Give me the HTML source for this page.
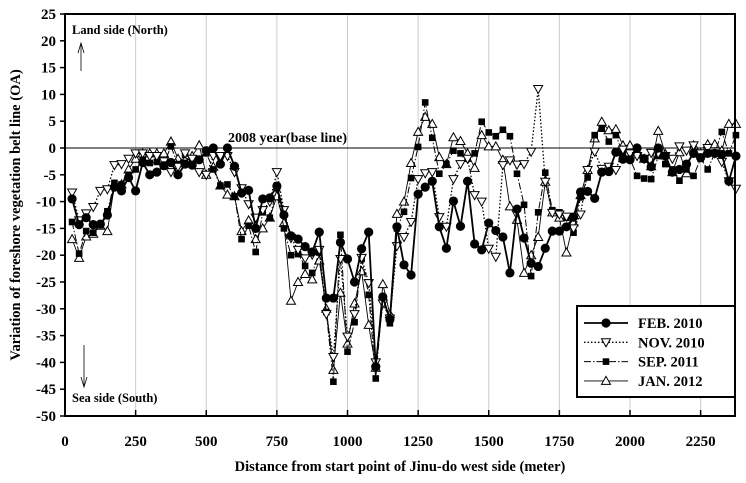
<!DOCTYPE html>
<html><head><meta charset="utf-8"><style>
body{margin:0;background:#fff}
svg text{font-family:"Liberation Serif",serif;font-weight:bold;fill:#000}
</style></head><body>
<svg id="chart" width="746" height="478" xmlns="http://www.w3.org/2000/svg">
<g id="grid"></g>
<line x1="65" x2="735" y1="148" y2="148" stroke="#000" stroke-width="1"/>
<g id="series"></g>
<rect x="65" y="14" width="670" height="402" fill="none" stroke="#000" stroke-width="2"/>
<g id="axes"></g>
<text transform="translate(20,215) rotate(-90)" text-anchor="middle" font-size="14.5">Variation of foreshore vegetation belt line (OA)</text>
<text x="400" y="471" text-anchor="middle" font-size="14.5">Distance from start point of Jinu-do west side (meter)</text>
<text x="228" y="142" font-size="14">2008 year(base line)</text>
<text x="72" y="34" font-size="12.5">Land side (North)</text>
<g stroke="#000" stroke-width="0.8" fill="none"><line x1="81" y1="71" x2="81" y2="43"/><polyline points="78,53 81,43 84,53"/></g>
<text x="72" y="402" font-size="12.5">Sea side (South)</text>
<g stroke="#000" stroke-width="0.8" fill="none"><line x1="84" y1="345" x2="84" y2="387"/><polyline points="81,377 84,387 87,377"/></g>
<g id="legend"><rect x="577" y="306" width="158" height="91" fill="#fff" stroke="#000" stroke-width="2"/></g>
</svg>
<script>
const FEB2010=[-9.5,-14.3,-13,-14.3,-14.2,-12.5,-7.3,-8,-5.5,-8,
-2.7,-5,-4.5,-3.3,-2.7,-5,-3,-3.2,-2.2,-0.5,
0,-3,0,-3.4,-8.4,-7.9,-15,-9.5,-9.3,-7.1,
-12.5,-16.4,-17,-18.4,-19.4,-15.7,-28,-28,-17.6,-20.7,
-25,-18.8,-15.7,-40.8,-27.8,-32,-14.7,-21.8,-23.7,-8.6,
-7.3,-6.2,-14.7,-18.7,-9.9,-14.6,-6.2,-17.9,-19,-14,
-15.4,-16.6,-23.3,-11.4,-16.8,-21.5,-22.1,-18.7,-15.5,-15.5,
-14.7,-12.9,-8.2,-8.1,-9.4,-4.5,-4.4,-0.8,-2.1,-2.2,
0,-2,-3.5,0,-1.5,-4.5,-4,-3,-1,-1.8,
-1,-1,-1.2,-6.2,-1.5];
const NOV2010=[-8.3,-13.5,-12.2,-11,-8,-7.7,-3.2,-3,-2,-1,
-1,-1.5,-1.5,-2.5,-4.5,-3.5,-1,-2,-4.5,-5,
-1.5,-1.5,-1.5,-4.5,-7.5,-10.5,-13,-11.6,-10,-4.5,
-11.6,-16.8,-19,-20.6,-19.9,-19,-31,-39,-20.7,-35.2,
-31,-20.5,-25.2,-40,-29,-31.8,-18.3,-16.6,-13.8,-5.8,
-4.7,-4.5,-12.9,-14.7,-5.8,-3,-2,-8.8,-10,-18.8,
-20.3,-3.2,-2.3,-3.1,-3,-0.7,11,-6.3,-12.1,-12.4,
-12.8,-15,-12.4,-4.1,-0.7,-3.9,-3.5,-4.1,-0.3,-1,
-1.5,-2,-0.9,-1,-1.5,-2,0.3,-0.5,0.5,-1,
0,-1,-2.6,-6.2,-7.6];
const SEP2011=[-13.8,-19.7,-15.5,-15.8,-14.4,-11.8,-6.5,-6.8,-5,-4,
-2.3,-2.8,-2.6,-3,0.3,-3,-1,-2.5,-2,-1,
-4,-7,-6.8,-9,-17,-14.5,-19.4,-12,-13,-7.5,
-15,-20,-19.8,-22,-23.3,-19.5,-30.6,-43.6,-16.2,-38,
-32.5,-20.7,-27.4,-43,-27.8,-32.7,-15,-11.9,-5.6,0.2,
8.5,1.9,-4.8,-3,-0.5,-1,-2,-1,4.9,2.9,
2.2,3.4,2.2,-4.8,-10.6,-23.9,-12,-4.6,-11.6,-12,
-13,-15.8,-9.2,-5.5,2.4,3.6,1.2,2.4,-1,-2,
-5.2,-5.7,-5.8,-1.5,-3,-4,-6.1,-4,-5.2,-2,
-4,-1,3,-1,2.4];
const JAN2012=[-17,-20.5,-16.5,-16,-14.5,-15.5,-7,-6.8,-4,-2,
-1,-1,-1,-1,1.2,-2,-2.3,-1.5,0.5,-5,
-3.5,-7,-8.7,-9,-15.5,-13.5,-17,-15,-13,-9,
-14,-28.5,-25,-23.5,-24.5,-21,-30,-41.4,-27,-36.5,
-29,-23,-33,-41,-25.4,-31,-12.3,-10,-2.8,3,
5.8,4.5,-1.7,-3,2,1.3,-1,-3.7,2.4,0.3,
0.3,-2.2,-10.9,-13.4,-23.3,-20,-16.6,-6.3,-12,-13,
-19.5,-13.9,-8.8,-4.1,1.8,4.9,3.3,3.5,0.5,0.5,
-1.2,-2,-3.4,3.2,-1.1,-4.5,-0.8,-4.7,0.5,-1,
0.7,0.7,-0.5,4.5,4.5];
const DISTANCE_STEP=25;
const xTicks=[0,250,500,750,1000,1250,1500,1750,2000,2250];
const yTicks=[25,20,15,10,5,0,-5,-10,-15,-20,-25,-30,-35,-40,-45,-50];
const seriesNames=["FEB. 2010","NOV. 2010","SEP. 2011","JAN. 2012"];

const NS="http://www.w3.org/2000/svg";
const xs=d=>65+d*0.2825;
const ys=v=>148-v*5.36;
function mk(tag,attrs,parent){const e=document.createElementNS(NS,tag);for(const k in attrs)e.setAttribute(k,attrs[k]);parent.appendChild(e);return e;}
const grid=document.getElementById('grid'),axes=document.getElementById('axes'),sg=document.getElementById('series'),lg=document.getElementById('legend');
xTicks.forEach(t=>{
  if(t>0){const g=mk('line',{x1:xs(t),x2:xs(t),y1:14,y2:416,stroke:'#ccc','stroke-width':1},grid);
  
  
  const tk=mk('line',{x1:xs(t),x2:xs(t),y1:410,y2:416,stroke:'#000','stroke-width':1.5},axes);
  
  }
  const tx=mk('text',{x:xs(t),y:446,'text-anchor':'middle','font-size':15},axes);
  tx.textContent=t;
  
  
});
yTicks.forEach(t=>{
  const tk=mk('line',{x1:60,x2:65,y1:ys(t),y2:ys(t),stroke:'#000','stroke-width':1.5},axes);
  
  
  const tx=mk('text',{x:56,y:ys(t)+5,'text-anchor':'end','font-size':15},axes);
  tx.textContent=t;
  
  
});
function marker(type,x,y,parent){
  let e;
  if(type==='circle')e=mk('circle',{cx:x,cy:y,r:4.6,fill:'#000'},parent);
  else if(type==='square')e=mk('rect',{x:x-3.3,y:y-3.3,width:6.6,height:6.6,fill:'#000'},parent);
  else if(type==='down')e=mk('polygon',{points:`${x-4.5},${y-3.5} ${x+4.5},${y-3.5} ${x},${y+4.5}`,fill:'#fff',stroke:'#000','stroke-width':1},parent);
  else e=mk('polygon',{points:`${x-4.5},${y+3.5} ${x+4.5},${y+3.5} ${x},${y-4.5}`,fill:'#fff',stroke:'#000','stroke-width':1},parent);
  return e;
}
const styles=[
 {data:FEB2010,m:'circle',w:1.8,dash:'',name:'feb-2010'},
 {data:NOV2010,m:'down',w:1.3,dash:'1.5,2',name:'nov-2010'},
 {data:SEP2011,m:'square',w:1,dash:'7,2,1.5,2',name:'sep-2011'},
 {data:JAN2012,m:'up',w:0.9,dash:'',name:'jan-2012'}];
const order=[3,2,1,0];
order.forEach(i=>{
  const s=styles[i];
  const g=mk('g',{},sg);
  
  
  const pts=s.data.map((v,j)=>xs((j+1)*DISTANCE_STEP).toFixed(1)+','+ys(v).toFixed(1)).join(' ');
  const pl=mk('polyline',{points:pts,fill:'none',stroke:'#000','stroke-width':s.w},g);
  if(s.dash)pl.setAttribute('stroke-dasharray',s.dash);
  
  
  s.data.forEach((v,j)=>{
    const e=marker(s.m,xs((j+1)*DISTANCE_STEP),ys(v),g);
    
    
  });
});
seriesNames.forEach((n,i)=>{
  const s=styles[i];const y=323+i*19.3;
  const g=mk('g',{},lg);
  
  
  const l=mk('line',{x1:584,x2:628,y1:y,y2:y,stroke:'#000','stroke-width':s.w},g);
  if(s.dash)l.setAttribute('stroke-dasharray',s.dash);
  marker(s.m,606,y,g);
  const t=mk('text',{x:638,y:y+5,'font-size':14.5},g);
  t.textContent=n;
});
</script>
</body></html>
